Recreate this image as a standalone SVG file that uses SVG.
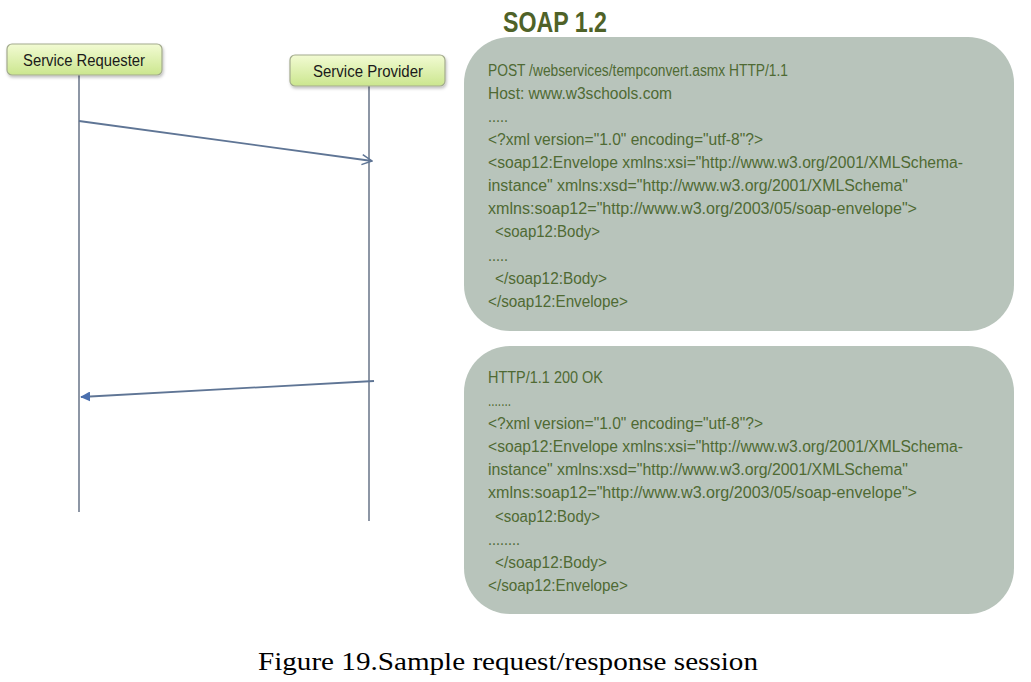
<svg xmlns="http://www.w3.org/2000/svg" width="1031" height="682" viewBox="0 0 1031 682">
<defs>
<linearGradient id="ng" x1="0" y1="0" x2="0" y2="1">
<stop offset="0" stop-color="#f2fbd3"/>
<stop offset="1" stop-color="#cbe68e"/>
</linearGradient>
<filter id="sh" x="-10%" y="-20%" width="120%" height="150%">
<feDropShadow dx="1" dy="2" stdDeviation="1.5" flood-color="#000" flood-opacity="0.25"/>
</filter>
<marker id="open" viewBox="0 0 12 12" refX="11" refY="6" markerWidth="12" markerHeight="12" markerUnits="userSpaceOnUse" orient="auto">
<path d="M1,1 L11,6 L1,11" fill="none" stroke="#5f7595" stroke-width="1.5"/>
</marker>
<marker id="fill" viewBox="0 0 12 12" refX="11" refY="6" markerWidth="10" markerHeight="10" markerUnits="userSpaceOnUse" orient="auto">
<path d="M0,0 L12,6 L0,12 Z" fill="#4a6fae"/>
</marker>
</defs>
<style>
.node rect{fill:url(#ng);stroke:#a3ab8e;stroke-width:1.2}
.nl{font-family:"Liberation Sans",Arial,sans-serif;font-size:16px;fill:#1a1a1a;text-anchor:middle}
.life{stroke:#8d96a5;stroke-width:2;fill:none}
.msg{stroke:#5f7595;stroke-width:1.8;fill:none}
.box{fill:#b8c4bb}
.code{font-family:"Liberation Sans",Arial,sans-serif;font-size:16px;fill:#4f6a33}
.title{font-family:"Liberation Sans",Arial,sans-serif;font-weight:bold;font-size:29px;fill:#4f6228}
.cap{font-family:"Liberation Serif","Times New Roman",serif;font-size:25px;fill:#000}
</style>
<rect width="1031" height="682" fill="#fff"/>

<g id="lifelines">
<line class="life" x1="79" y1="75" x2="79" y2="512"/>
<line class="life" x1="369" y1="86" x2="369" y2="521"/>
</g>

<g id="service-requester" class="node">
<rect x="7" y="44" width="155" height="31" rx="5" filter="url(#sh)"/>
<text class="nl" x="84" y="65.5" textLength="122" lengthAdjust="spacingAndGlyphs">Service Requester</text>
</g>

<g id="service-provider" class="node">
<rect x="290" y="55" width="155" height="31" rx="5" filter="url(#sh)"/>
<text class="nl" x="368" y="76.5" textLength="110" lengthAdjust="spacingAndGlyphs">Service Provider</text>
</g>

<g id="connectors">
<line class="msg" x1="79" y1="121" x2="372" y2="161" marker-end="url(#open)"/>
<line class="msg" x1="374" y1="381" x2="81" y2="397" marker-end="url(#fill)"/>
</g>

<text class="title" x="503" y="32" textLength="104" lengthAdjust="spacingAndGlyphs">SOAP 1.2</text>

<g id="request-box">
<rect class="box" x="464" y="37" width="550" height="294" rx="46"/>
<text class="code" x="488" y="76" textLength="300" lengthAdjust="spacingAndGlyphs">POST /webservices/tempconvert.asmx HTTP/1.1</text>
<text class="code" x="488" y="99" textLength="184" lengthAdjust="spacingAndGlyphs">Host: www.w3schools.com</text>
<text class="code" x="488" y="122" textLength="20" lengthAdjust="spacingAndGlyphs">.....</text>
<text class="code" x="488" y="145" textLength="275" lengthAdjust="spacingAndGlyphs">&lt;?xml version="1.0" encoding="utf-8"?&gt;</text>
<text class="code" x="488" y="168" textLength="475" lengthAdjust="spacingAndGlyphs">&lt;soap12:Envelope xmlns:xsi="http://www.w3.org/2001/XMLSchema-</text>
<text class="code" x="488" y="191" textLength="420" lengthAdjust="spacingAndGlyphs">instance" xmlns:xsd="http://www.w3.org/2001/XMLSchema"</text>
<text class="code" x="488" y="214" textLength="429" lengthAdjust="spacingAndGlyphs">xmlns:soap12="http://www.w3.org/2003/05/soap-envelope"&gt;</text>
<text class="code" x="495" y="237" textLength="105" lengthAdjust="spacingAndGlyphs">&lt;soap12:Body&gt;</text>
<text class="code" x="488" y="261" textLength="20" lengthAdjust="spacingAndGlyphs">.....</text>
<text class="code" x="495" y="284" textLength="112" lengthAdjust="spacingAndGlyphs">&lt;/soap12:Body&gt;</text>
<text class="code" x="488" y="307" textLength="140" lengthAdjust="spacingAndGlyphs">&lt;/soap12:Envelope&gt;</text>
</g>

<g id="response-box">
<rect class="box" x="464" y="346" width="550" height="268" rx="46"/>
<text class="code" x="488" y="383" textLength="115" lengthAdjust="spacingAndGlyphs">HTTP/1.1 200 OK</text>
<text class="code" x="488" y="406" textLength="23" lengthAdjust="spacingAndGlyphs">.......</text>
<text class="code" x="488" y="429" textLength="275" lengthAdjust="spacingAndGlyphs">&lt;?xml version="1.0" encoding="utf-8"?&gt;</text>
<text class="code" x="488" y="452" textLength="475" lengthAdjust="spacingAndGlyphs">&lt;soap12:Envelope xmlns:xsi="http://www.w3.org/2001/XMLSchema-</text>
<text class="code" x="488" y="475" textLength="420" lengthAdjust="spacingAndGlyphs">instance" xmlns:xsd="http://www.w3.org/2001/XMLSchema"</text>
<text class="code" x="488" y="498" textLength="429" lengthAdjust="spacingAndGlyphs">xmlns:soap12="http://www.w3.org/2003/05/soap-envelope"&gt;</text>
<text class="code" x="495" y="522" textLength="105" lengthAdjust="spacingAndGlyphs">&lt;soap12:Body&gt;</text>
<text class="code" x="488" y="545" textLength="32" lengthAdjust="spacingAndGlyphs">........</text>
<text class="code" x="495" y="568" textLength="112" lengthAdjust="spacingAndGlyphs">&lt;/soap12:Body&gt;</text>
<text class="code" x="488" y="591" textLength="140" lengthAdjust="spacingAndGlyphs">&lt;/soap12:Envelope&gt;</text>
</g>

<text class="cap" x="258" y="670" textLength="500" lengthAdjust="spacingAndGlyphs">Figure 19.Sample request/response session</text>
</svg>
